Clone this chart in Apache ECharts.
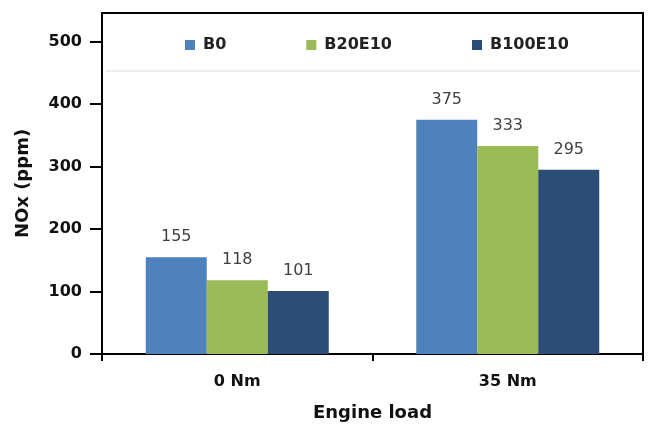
<!DOCTYPE html>
<html><head><meta charset="utf-8">
<script src="https://cdn.jsdelivr.net/npm/echarts@6/dist/echarts.min.js"></script>
<style>html,body{margin:0;padding:0;background:#fff}#c{width:658px;height:428px}</style>
</head><body><div id="c"></div>
<script>
const categories = ['0 Nm', '35 Nm'];
const seriesNames = ['B0', 'B20E10', 'B100E10'];
const b0 = [155, 375];
const b20e10 = [118, 333];
const b100e10 = [101, 295];
const yTicks = [0, 100, 200, 300, 400, 500];
const colors = ['#4F81BD', '#9BBB59', '#2C4D75'];
const values = [b0, b20e10, b100e10];
const font = 'DejaVu Sans, sans-serif';

const chart = echarts.init(document.getElementById('c'));
chart.setOption({
  animation: false,
  grid: { left: 102, right: 15, top: 13, bottom: 74, show: true, borderColor: '#000', borderWidth: 2, backgroundColor: 'transparent' },
  legend: {
    data: seriesNames, top: 32, left: 180, itemGap: 80, itemWidth: 10, itemHeight: 10,
    icon: 'rect',
    textStyle: { fontFamily: font, fontWeight: 'bold', fontSize: 16, lineHeight: 16, color: '#222', padding: [0, 0, 0, 3] }
  },
  graphic: [{ type: 'line', shape: { x1: 106, y1: 71, x2: 640, y2: 71 }, style: { stroke: '#ececec', lineWidth: 2 }, z: 10 }],
  xAxis: {
    type: 'category', data: categories,
    name: 'Engine load', nameLocation: 'middle', nameGap: 50,
    nameTextStyle: { fontFamily: font, fontWeight: 'bold', fontSize: 18, color: '#111' },
    axisLine: { lineStyle: { color: '#000', width: 2 } },
    axisTick: { show: true, length: 7, lineStyle: { color: '#000', width: 2 } },
    axisLabel: { fontFamily: font, fontWeight: 'bold', fontSize: 16, color: '#111', margin: 20 }
  },
  yAxis: {
    type: 'value', min: 0, max: 546,
    name: 'NOx (ppm)', nameLocation: 'middle', nameGap: 70, nameRotate: 90,
    nameTextStyle: { fontFamily: font, fontWeight: 'bold', fontSize: 18, color: '#111' },
    splitLine: { show: false },
    axisLine: { show: true, lineStyle: { color: '#000', width: 2 } },
    axisTick: { show: true, inside: false, length: 12, customValues: yTicks, lineStyle: { color: '#000', width: 2 } },
    axisLabel: { customValues: yTicks, fontFamily: font, fontWeight: 'bold', fontSize: 16, color: '#111', margin: 20 }
  },
  series: seriesNames.map((n, i) => ({
    name: n, type: 'bar', data: values[i], barWidth: 61, barGap: '0%',
    itemStyle: { color: colors[i] },
    label: { show: true, position: 'top', distance: 12, fontFamily: font, fontSize: 16, color: '#404040' }
  }))
});
</script></body></html>
